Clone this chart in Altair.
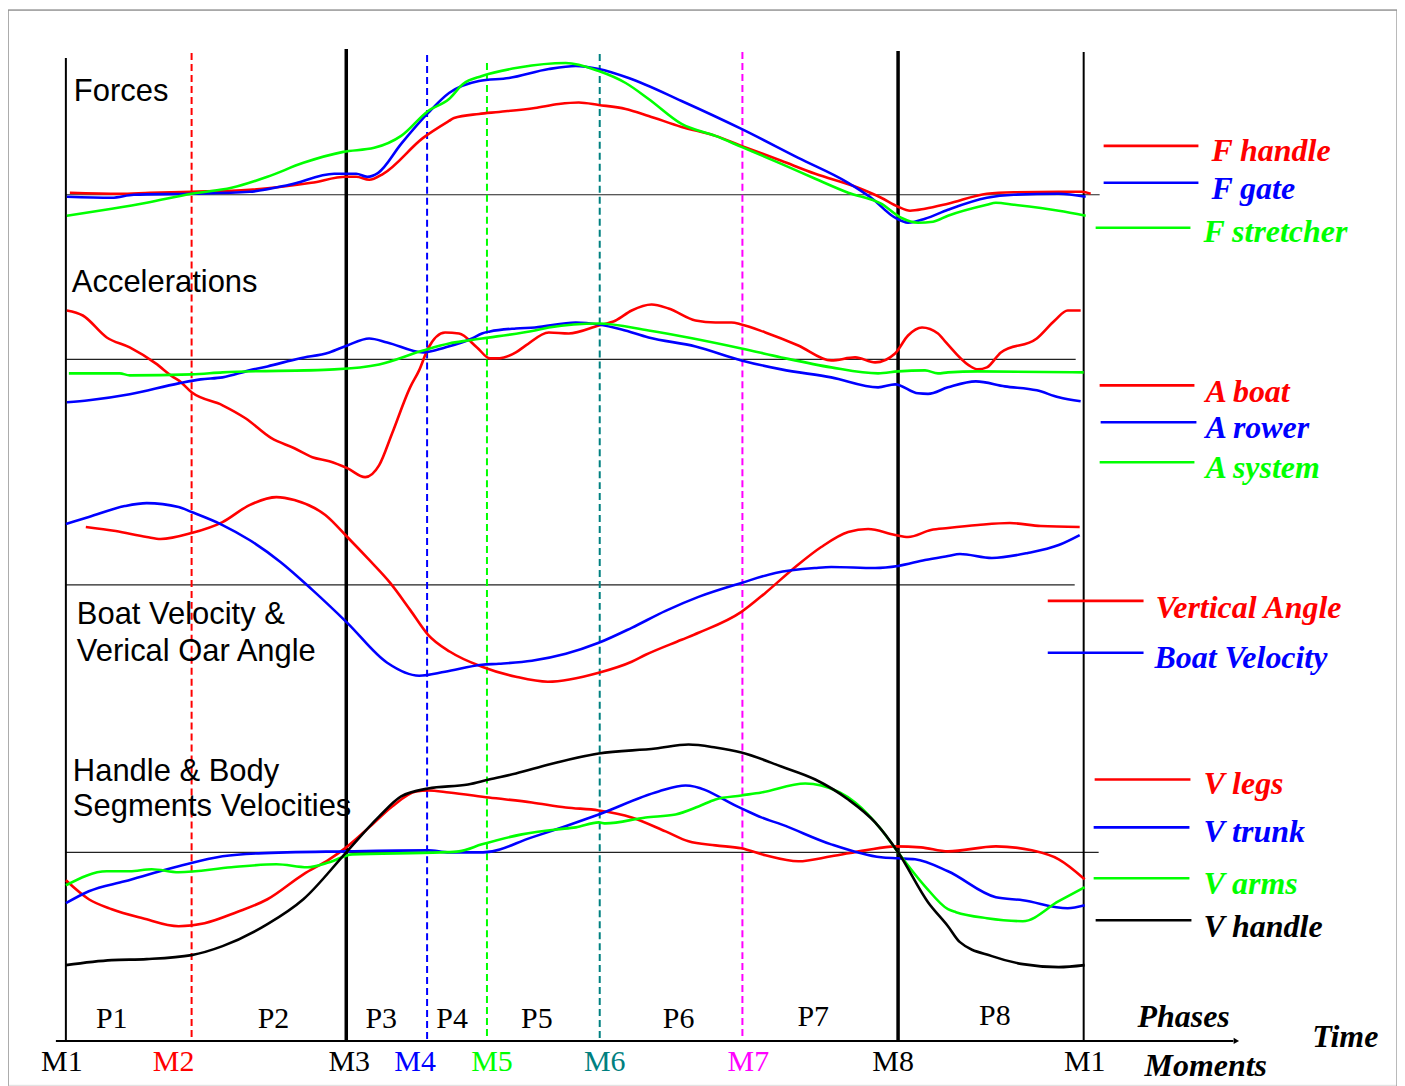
import altair as alt
import pandas as pd

# ---------------- data (time in cycle units: 0 = M1 ... 1020 = next M1; values relative to each panel's zero line)
# Forces
f_handle_t = [4, 54, 84, 126, 184, 246, 281, 291, 304, 318, 358, 384, 389, 414, 434, 470, 494, 514, 534, 561, 584, 617, 651, 677, 717, 751, 794, 817, 834, 846, 861, 884, 923, 950, 995, 1018, 1027]
f_handle_v = [2, 1, 2, 3, 5, 12, 18, 18, 15, 21, 57, 74, 77, 81, 83, 87, 91, 92.5, 90, 86, 79, 68, 59, 49, 34, 21, 7, -3, -12, -16, -14, -9, 1, 2.5, 3, 3, 1]
f_gate_t = [1, 46, 68, 126, 184, 224, 269, 291, 302, 313, 336, 363, 384, 414, 444, 484, 511, 534, 564, 617, 677, 734, 784, 807, 831, 844, 861, 884, 923, 950, 995, 1022]
f_gate_v = [-2, -3, 0, 1, 3, 10, 21, 21, 18, 22, 51, 82, 102, 114, 117, 126, 129, 126, 117, 94, 66, 37, 12, -3, -23, -28, -24, -15, -3, 0, 1, -2]
f_stretch_t = [1, 46, 81, 126, 166, 202, 238, 278, 309, 336, 363, 384, 398, 417, 454, 501, 534, 561, 584, 617, 651, 677, 717, 751, 784, 817, 837, 854, 869, 884, 923, 932, 950, 995, 1022]
f_stretch_v = [-21, -14, -8, 1, 7, 18, 32, 43, 47, 59, 84, 96, 111, 119, 127.5, 132, 124, 112, 96, 71, 59, 48, 31, 16, 2, -9, -23, -28, -27, -21, -10, -8, -10, -16, -21]

# Accelerations
a_boat_t = [1, 17, 41, 64, 90, 108, 113, 126, 157, 180, 206, 229, 247, 264, 282, 300, 314, 327, 345, 354, 363, 380, 394, 412, 425, 431, 439, 451, 461, 484, 504, 534, 551, 567, 587, 604, 631, 651, 667, 677, 701, 734, 767, 791, 811, 831, 844, 858, 874, 882, 905, 914, 923, 937, 973, 991, 1004, 1017]
a_boat_v = [49, 44, 22, 12, -4, -18, -21, -33, -46, -59, -79, -89, -98, -102, -109, -118, -106, -74, -28, -11, 11, 27, 26, 12, 1, 1, 2, 7, 14, 27, 26, 34, 39, 49, 55, 51, 39, 37, 37, 35, 27, 14, -1, 2, -3, 6, 24, 32, 26, 17, -6, -10, -8, 7, 21, 39, 49, 49]
a_rower_t = [1, 23, 64, 113, 135, 157, 184, 202, 234, 264, 282, 304, 322, 358, 380, 407, 417, 425, 451, 470, 511, 534, 557, 584, 631, 677, 717, 767, 814, 831, 854, 864, 884, 912, 941, 973, 995, 1017]
a_rower_v = [-43, -41, -35, -24, -20, -18, -11, -7, 1, 7, 14, 21, 17, 7, 12, 21, 26, 28, 31, 32, 37, 35, 30, 22, 13, -1, -10, -18, -28, -25, -34, -34.5, -28, -22, -27, -31, -38, -42]
a_system_t = [3, 54, 64, 126, 157, 269, 314, 358, 384, 403, 417, 470, 484, 534, 584, 677, 717, 767, 814, 834, 861, 874, 884, 914, 1020]
a_system_v = [-14, -14, -16, -15, -13, -10, -5, 9, 16, 19, 21, 29, 32, 36, 29, 11, 2, -8, -14, -12, -11, -14, -13, -12, -13]

# Boat velocity & vertical oar angle
v_angle_t = [20, 50, 81, 95, 126, 157, 184, 211, 229, 260, 282, 304, 325, 345, 363, 385, 417, 451, 483, 534, 567, 581, 617, 634, 677, 701, 731, 757, 784, 804, 831, 844, 867, 884, 914, 946, 977, 1016]
v_angle_v = [58, 54, 48, 46, 52, 63, 80, 88, 85, 70, 48, 25, 2, -25, -50, -67, -82, -92, -97, -88, -77, -70, -55, -48, -27, -8, 18, 38, 53, 56, 50, 48, 55, 57, 60, 62, 59, 58]
boat_vel_t = [0, 23, 59, 81, 113, 126, 157, 184, 215, 247, 282, 322, 354, 380, 417, 434, 467, 501, 534, 567, 601, 634, 677, 711, 751, 767, 811, 834, 861, 884, 896, 928, 964, 995, 1016]
boat_vel_v = [61, 68, 79, 82, 78, 73, 60, 45, 23, -5, -38, -78, -91, -87, -80, -79, -76, -69, -58, -43, -26, -12, 2, 12, 17, 18, 17, 19, 25, 29, 31, 27, 32, 40, 50]

# Handle & body segment velocities
v_legs_t = [0, 23, 46, 77, 113, 139, 171, 202, 238, 264, 281, 305, 327, 351, 363, 384, 424, 467, 501, 534, 567, 601, 624, 651, 677, 701, 734, 767, 801, 831, 857, 884, 932, 968, 995, 1021]
v_legs_v = [-28, -47, -57, -66, -74, -71, -60, -47, -22, -7, 5, 26, 46, 61, 62, 60, 55, 50, 45, 42, 35, 21, 11, 7, 4, -3, -9, -4, 2, 6, 5, 1, 6, 2, -7, -27]
v_trunk_t = [0, 23, 59, 113, 157, 193, 281, 363, 384, 418, 467, 534, 594, 621, 677, 697, 717, 767, 817, 834, 851, 884, 932, 959, 1004, 1021]
v_trunk_v = [-51, -39, -29, -14, -4, -1, 1, 2, 0, 0, 15, 38, 61, 67, 44, 35, 28, 8, -5, -6, -7, -19, -45, -48, -56, -53]
v_arms_t = [0, 41, 64, 86, 113, 166, 211, 242, 264, 287, 376, 394, 417, 457, 492, 511, 534, 541, 581, 611, 634, 651, 677, 697, 741, 757, 791, 817, 834, 861, 884, 892, 923, 959, 995, 1021]
v_arms_v = [-33, -19, -19, -17, -20, -15, -12, -15, -10, -2, 0, 1, 8, 18, 23, 25, 30, 29, 35, 38, 46, 53, 57, 60, 69, 67, 50, 23, 0, -34, -57, -60, -66, -69, -49, -35]
v_handle_t = [0, 46, 81, 126, 157, 202, 238, 281, 314, 336, 363, 403, 424, 451, 484, 534, 591, 624, 651, 677, 717, 751, 784, 811, 834, 864, 884, 896, 928, 959, 995, 1021]
v_handle_v = [-113, -108, -107, -103, -94, -72, -47, 0, 36, 56, 64, 68, 73, 79, 88, 99, 104, 108, 105, 100, 86, 73, 53, 30, 0, -50, -74, -90, -104, -112, -115, -113]

# Moments of the cycle
moment_names = ["M1", "M2", "M3", "M4", "M5", "M6", "M7", "M8", "M1"]
moment_times = [0, 126, 281, 362, 422, 535, 678, 834, 1020]
moment_colors = ["black", "#ff0000", "black", "#0000ff", "#00ff00", "#008080", "#ff00ff", "black", "black"]
phase_names = ["P1", "P2", "P3", "P4", "P5", "P6", "P7", "P8"]

RED, BLUE, GREEN, BLACK = "#ff0000", "#0000ff", "#00ff00", "#000000"

series = [
    ("F handle", "forces", f_handle_t, f_handle_v, RED),
    ("F gate", "forces", f_gate_t, f_gate_v, BLUE),
    ("F stretcher", "forces", f_stretch_t, f_stretch_v, GREEN),
    ("A boat", "acc", a_boat_t, a_boat_v, RED),
    ("A rower", "acc", a_rower_t, a_rower_v, BLUE),
    ("A system", "acc", a_system_t, a_system_v, GREEN),
    ("Vertical Angle", "vel", v_angle_t, v_angle_v, RED),
    ("Boat Velocity", "vel", boat_vel_t, boat_vel_v, BLUE),
    ("V legs", "hand", v_legs_t, v_legs_v, RED),
    ("V trunk", "hand", v_trunk_t, v_trunk_v, BLUE),
    ("V arms", "hand", v_arms_t, v_arms_v, GREEN),
    ("V handle", "hand", v_handle_t, v_handle_v, BLACK),
]

# ---------------- layout
W, H = 1392, 1078
panel_zero = {"forces": 892, "acc": 727, "vel": 501, "hand": 233}
panel_zero_end = {"forces": 1036, "acc": 1012, "vel": 1011, "hand": 1035}

xs = alt.Scale(domain=[-58, -58 + W], nice=False, zero=False)
ys = alt.Scale(domain=[1078 - H, 1078], nice=False, zero=False)
X = lambda f: alt.X(f, type="quantitative", scale=xs, axis=None)
Y = lambda f: alt.Y(f, type="quantitative", scale=ys, axis=None)

rows = []
for name, panel, ts, vs, col in series:
    for t, v in zip(ts, vs):
        rows.append({"series": name, "t": t, "g": panel_zero[panel] + v, "color": col})
curves = pd.DataFrame(rows)

base_df = pd.DataFrame([{"t0": 0, "t1": panel_zero_end[p], "g": panel_zero[p]} for p in panel_zero])

moment_tops = [1029, 1034, 1038, 1032, 1024, 1033, 1035, 1036, 1035]
solid_w = {0: 2, 2: 3.5, 7: 3.5, 8: 2}
mom_rows = []
for i, (n, t, c) in enumerate(zip(moment_names, moment_times, moment_colors)):
    mom_rows.append({"name": n, "t": t, "top": moment_tops[i], "bot": 45, "color": c,
                     "solid": i in solid_w, "w": solid_w.get(i, 2)})
mom_df = pd.DataFrame(mom_rows)

label_t = [-4, 108, 284, 350, 427, 540, 684, 829, 1021]
mlab_df = pd.DataFrame({"text": moment_names, "t": label_t, "g": [23] * 9, "color": moment_colors})

phase_t = [46, 208, 316, 387, 472, 614, 749, 931]
phase_g = [66, 66, 66, 66, 66, 66, 68, 69]
plab_df = pd.DataFrame({"text": phase_names, "t": phase_t, "g": phase_g})

titles_df = pd.DataFrame({
    "text": ["Forces", "Accelerations", "Boat Velocity &", "Verical Oar Angle", "Handle & Body", "Segments Velocities"],
    "t": [8, 6, 11, 11, 7, 7],
    "g": [995, 804, 471, 434, 313, 278],
})

leg_df = pd.DataFrame({
    "text": [s[0] for s in series],
    "color": [s[4] for s in series],
    "t0": [1040, 1040, 1032, 1036, 1037, 1036, 984, 984, 1031, 1030, 1030, 1032],
    "t1": [1135, 1135, 1127, 1131, 1133, 1131, 1080, 1080, 1127, 1126, 1126, 1128],
    "gl": [941, 904, 859, 701, 664, 624, 485, 433, 306, 258, 207, 165],
    "tt": [1148, 1148, 1140, 1142, 1142, 1142, 1092, 1091, 1140, 1140, 1140, 1140],
    "gt": [936, 898, 855, 694, 658, 618, 478, 428, 301, 253, 201, 158],
})

axis_words = pd.DataFrame({"text": ["Phases", "Time", "Moments"], "t": [1074, 1249, 1081], "g": [68, 48, 19]})

frame_df = pd.DataFrame({"t0": [-58, -58, 1334], "t1": [1334, -58, 1334], "g0": [1077, 1077, 1077], "g1": [1077, -30, -30]})

# ---------------- layers
frame = alt.Chart(frame_df).mark_rule(color="#8c8c8c", strokeWidth=1.2).encode(
    x=X("t0"), x2="t1", y=Y("g0"), y2="g1")

zero_lines = alt.Chart(base_df).mark_rule(color="#222222", strokeWidth=1.1).encode(
    x=X("t0"), x2="t1", y=Y("g"))

solid_m = alt.Chart(mom_df[mom_df.solid]).mark_rule().encode(
    x=X("t"), y=Y("top"), y2="bot", color=alt.Color("color:N", scale=None),
    size=alt.Size("w:Q", scale=None))
dashed_m = alt.Chart(mom_df[~mom_df.solid]).mark_rule(strokeDash=[7, 4], strokeWidth=2).encode(
    x=X("t"), y=Y("top"), y2="bot", color=alt.Color("color:N", scale=None))

time_axis = alt.Chart(pd.DataFrame({"t0": [-10], "t1": [1170], "g": [44]})).mark_rule(
    color="black", strokeWidth=2).encode(x=X("t0"), x2="t1", y=Y("g"))
arrow = alt.Chart(pd.DataFrame({"t": [1173], "g": [44]})).mark_point(
    shape="triangle-right", filled=True, color="black", size=40, opacity=1).encode(x=X("t"), y=Y("g"))

lines = alt.Chart(curves).mark_line(strokeWidth=2.6, strokeJoin="round", interpolate="monotone").encode(
    x=X("t"), y=Y("g"), color=alt.Color("color:N", scale=None), detail="series:N", order="t:Q")

leg_lines = alt.Chart(leg_df).mark_rule(strokeWidth=2.6).encode(
    x=X("t0"), x2="t1", y=Y("gl"), color=alt.Color("color:N", scale=None))
leg_text = alt.Chart(leg_df).mark_text(
    font="Liberation Serif", fontSize=32, fontStyle="italic", fontWeight="bold", align="left", baseline="middle").encode(
    x=X("tt"), y=Y("gt"), text="text:N", color=alt.Color("color:N", scale=None))

title_text = alt.Chart(titles_df).mark_text(
    font="Liberation Sans", fontSize=31, align="left", baseline="middle", color="black").encode(
    x=X("t"), y=Y("g"), text="text:N")

m_text = alt.Chart(mlab_df).mark_text(
    font="Liberation Serif", fontSize=30, align="center", baseline="middle").encode(
    x=X("t"), y=Y("g"), text="text:N", color=alt.Color("color:N", scale=None))
p_text = alt.Chart(plab_df).mark_text(
    font="Liberation Serif", fontSize=30, align="center", baseline="middle", color="black").encode(
    x=X("t"), y=Y("g"), text="text:N")
w_text = alt.Chart(axis_words).mark_text(
    font="Liberation Serif", fontSize=32, fontStyle="italic", fontWeight="bold", align="left",
    baseline="middle", color="black").encode(x=X("t"), y=Y("g"), text="text:N")

chart = alt.layer(
    frame, zero_lines, dashed_m, solid_m, time_axis, arrow, lines, leg_lines, leg_text,
    title_text, m_text, p_text, w_text
).properties(
    width=W, height=H, autosize=alt.AutoSizeParams(type="none"), padding=0
).configure_view(stroke=None).configure(background="white")

chart.save("out.html", embed_options={"renderer": "svg", "actions": False})
